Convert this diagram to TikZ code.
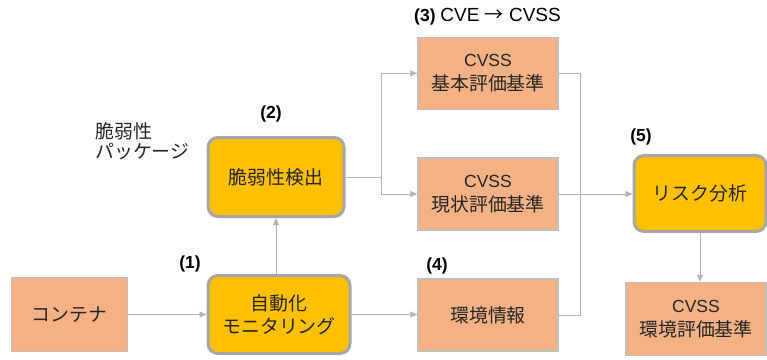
\documentclass[tikz,border=0pt]{standalone}
\usepackage{fontspec}
\setmainfont{Liberation Sans}
\newfontfamily\jp[Scale=1.08]{Noto Sans CJK JP}
\newfontfamily\jparrow{Noto Sans CJK JP}
\usetikzlibrary{arrows.meta}
\definecolor{salmon}{HTML}{F4B183}
\definecolor{gold}{HTML}{FFC000}
\definecolor{rimgray}{HTML}{A6A6A6}
\definecolor{boxgray}{HTML}{BFBFBF}
\definecolor{linegray}{HTML}{B4B4B4}
\definecolor{txt}{HTML}{262626}
\begin{document}
\begin{tikzpicture}[x=1pt,y=-1pt,
  plainbox/.style={draw=boxgray, line width=1.5pt, fill=salmon, minimum width=140pt, minimum height=72pt, align=center, inner sep=0pt, text=txt, font=\fontsize{17.5}{23.5}\selectfont},
  keybox/.style={draw=rimgray, line width=3pt, fill=gold, rounded corners=10pt, align=center, inner sep=0pt, text=txt, font=\fontsize{17.5}{23.5}\selectfont},
  conn/.style={draw=linegray, line width=1pt, -{Triangle[length=7pt,width=6pt]}},
  wire/.style={draw=linegray, line width=1pt},
  tag/.style={font=\bfseries\fontsize{17.5}{19}\selectfont, text=black, inner sep=0pt}
]
\useasboundingbox (0,0) rectangle (767,359);

% boxes
\node[plainbox, minimum width=116pt, minimum height=74pt] (cont) at (69.5,314.5) {\jp コンテナ};
\node[keybox, minimum width=142pt, minimum height=78pt] (auto) at (279,314.5) {\jp 自動化\\\jp モニタリング};
\node[keybox, minimum width=136pt, minimum height=79pt] (detect) at (276,177) {\jp 脆弱性検出};
\node[plainbox] (base) at (488,73.3) {CVSS\\\jp 基本評価基準};
\node[plainbox] (curr) at (488,194) {CVSS\\\jp 現状評価基準};
\node[plainbox] (env) at (488,315) {\jp 環境情報};
\node[keybox, minimum width=132pt, minimum height=76pt] (risk) at (700,193.5) {\jp リスク分析};
\node[plainbox, minimum width=140pt, minimum height=73pt] (envc) at (696,319) {CVSS\\\jp 環境評価基準};

% free text
\node[anchor=west, align=left, inner sep=0pt, text=txt, font=\fontsize{17.5}{20}\selectfont] (pkg) at (95,141.5) {\jp 脆弱性\\\jp パッケージ};

% labels
\node[tag] (l1) at (190,264) {(1)};
\node[tag] (l2) at (271,114) {(2)};
\node[tag, anchor=west] (l3) at (414,17) {(3) \mdseries\fontsize{19}{20}\selectfont CVE {\jparrow →} CVSS};
\node[tag] (l4) at (437,266) {(4)};
\node[tag] (l5) at (641,137) {(5)};

% connectors
\draw[conn] (cont.east) -- (auto.west);
\draw[conn] (detect.south |- auto.north) -- (detect.south);
\draw[conn] (auto.east) -- (auto.east -| env.west);
\coordinate (j1) at (381,177);
\draw[wire] (detect.east |- j1) -- (j1);
\draw[conn] (j1) |- (base.west);
\draw[conn] (j1) |- (curr.west);
\coordinate (j2) at (580,194);
\draw[wire] (base.east) -| (j2);
\draw[wire] (env.east) -| (j2);
\draw[conn] (curr.east) -- (curr.east -| risk.west);
\draw[conn] (risk.south) -- (risk.south |- envc.north);
\end{tikzpicture}
\end{document}
